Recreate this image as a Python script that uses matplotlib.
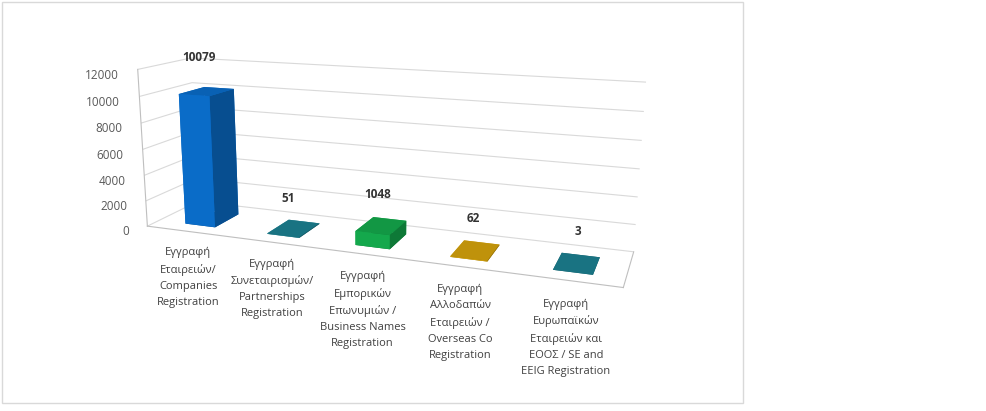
import matplotlib
matplotlib.use('Agg')
import matplotlib.pyplot as plt
from matplotlib.patches import Rectangle
from matplotlib.colors import to_rgb
import numpy as np

plt.rcParams['font.family'] = ['Open Sans', 'DejaVu Sans']

categories = ['Εγγραφή\nΕταιρειών/\nCompanies\nRegistration',
              'Εγγραφή\nΣυνεταιρισμών/\nPartnerships\nRegistration',
              'Εγγραφή\nΕμπορικών\nΕπωνυμιών /\nBusiness Names\nRegistration',
              'Εγγραφή\nΑλλοδαπών\nΕταιρειών /\nOverseas Co\nRegistration',
              'Εγγραφή\nΕυρωπαϊκών\nΕταιρειών και\nΕΟΟΣ / SE and\nEEIG Registration']
values = [10079, 51, 1048, 62, 3]
colors = ['#0a6cc8', '#1c8090', '#14a84c', '#d4a20c', '#1c8090']
zticks = [0, 2000, 4000, 6000, 8000, 10000, 12000]


def faces(c):
    r = np.array(to_rgb(c))
    # order: bottom, top, front, back, left, right
    return [r * 0.7, r * 0.9, r, r, r, r * 0.72]


fig = plt.figure(figsize=(9.86, 4.11), dpi=100)
# chart frame
fig.patches.append(Rectangle((0.002, 0.02), 0.752, 0.975, transform=fig.transFigure,
                             fill=False, edgecolor='#d9d9d9', linewidth=1))

# camera settings fitted to the walls / floor of the original 3-D chart
ax = fig.add_axes([0.1184, -0.0285, 0.5213, 1.2507], projection='3d',
                  proj_type='persp', focal_length=0.322)
ax.view_init(elev=13.57, azim=-69.62, roll=-0.14)
ax.set_box_aspect((5, 1.016, 1.702))

x = np.arange(len(values))
w = 0.37
for i, v in enumerate(values):
    ax.bar3d(x[i] - w / 2 + 0.02, 0.22, 0, w, 0.5, v, color=faces(colors[i]), shade=False, edgecolor='none')
    ax.text(x[i] + 0.04, 0.3, v + 2200, str(v), ha='center', va='bottom',
            fontsize=8.5, fontweight='bold', color='#333333')
    ax.text(x[i], 0.0, -1250, categories[i], ha='center', va='top',
            fontsize=8, color='#404040', linespacing=1.62)

ax.set_xlim(-0.5, len(values) - 0.5)
ax.set_ylim(0, 1)
ax.set_zlim(0, 12000)
ax.set_xticks([])
ax.set_yticks([])
ax.set_zticks(zticks)
ax.set_zticklabels([str(t) for t in zticks], fontsize=8.5, color='#595959', ha='right')
ax.zaxis.set_ticks_position('lower')
ax.zaxis.set_tick_params(pad=0)

for axis in (ax.xaxis, ax.yaxis, ax.zaxis):
    axis.set_pane_color((1, 1, 1, 0))
    axis.pane.set_edgecolor('none')
    axis.line.set_color('#bfbfbf')
    axis._axinfo['grid']['color'] = '#d9d9d9'
    axis._axinfo['grid']['linewidth'] = 0.8
ax.zaxis.pane.set_edgecolor('#a6a6a6')
ax.zaxis._axinfo['tick']['inward_factor'] = 0
ax.zaxis._axinfo['tick']['outward_factor'] = 0

fig.savefig('out.png', dpi=100)
